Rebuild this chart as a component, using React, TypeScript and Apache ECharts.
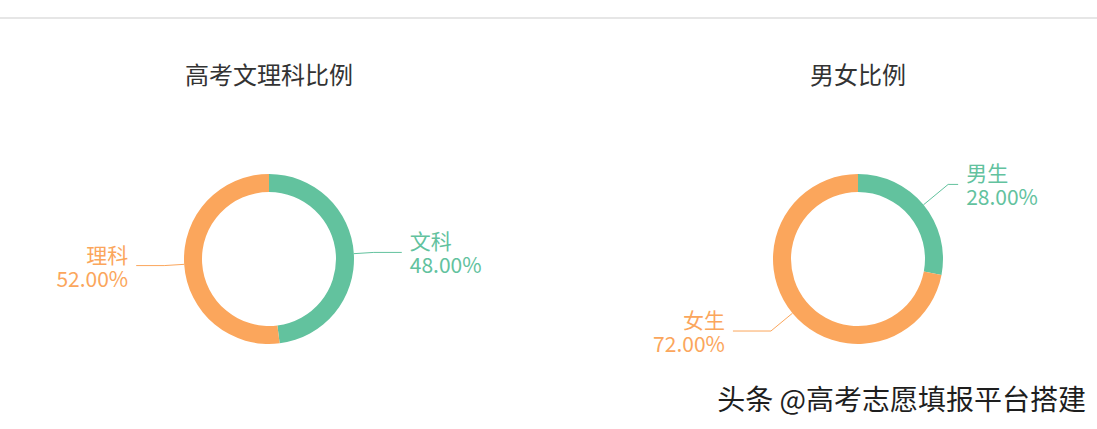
import React, { useEffect, useRef } from "react";
import * as echarts from "echarts";

const titles = ["高考文理科比例", "男女比例"];
const subjectNames = ["文科", "理科"];
const subjectValues = [48, 52];
const genderNames = ["男生", "女生"];
const genderValues = [28, 72];
const sliceColors = ["#62c29e", "#fba65c"];
const watermark = "头条 @高考志愿填报平台搭建";

const FONT = "'Noto Sans CJK SC', 'Noto Sans', sans-serif";

function pieSeries(
  names: string[],
  values: number[],
  center: [number, number],
  lineLens: [number, number][]
) {
  return {
    type: "pie",
    center,
    radius: [67, 85],
    startAngle: 90,
    clockwise: true,
    avoidLabelOverlap: true,
    silent: true,
    data: names.map((n, i) => ({
      name: n,
      value: values[i],
      itemStyle: { color: sliceColors[i] },
      label: { color: sliceColors[i] },
      labelLine: {
        length: lineLens[i][0],
        length2: lineLens[i][1],
        lineStyle: { color: sliceColors[i], width: 1 },
      },
    })),
    label: {
      show: true,
      position: "outside",
      fontSize: 21,
      lineHeight: 24,
      fontFamily: FONT,
      distanceToLabelLine: 8,
      formatter: (p: any) => `${p.name}\n${Number(p.percent).toFixed(2)}%`,
    },
    labelLine: { show: true, length: 20, length2: 28 },
  };
}

export default function App() {
  const ref = useRef<HTMLDivElement>(null);
  useEffect(() => {
    const chart = echarts.init(ref.current!, null, { renderer: "svg" });
    chart.setOption({
      animation: false,
      backgroundColor: "#ffffff",
      textStyle: { fontFamily: FONT },
      graphic: [
        {
          type: "line",
          shape: { x1: 0, y1: 18, x2: 1097, y2: 18 },
          style: { stroke: "#e6e6e6", lineWidth: 2 },
          silent: true,
        },
        {
          type: "text",
          x: 269,
          y: 73,
          style: {
            text: titles[0],
            fontSize: 24,
            fontFamily: FONT,
            fill: "#333333",
            align: "center",
            verticalAlign: "middle",
          },
        },
        {
          type: "text",
          x: 858,
          y: 73,
          style: {
            text: titles[1],
            fontSize: 24,
            fontFamily: FONT,
            fill: "#333333",
            align: "center",
            verticalAlign: "middle",
          },
        },
        {
          type: "text",
          right: 10,
          top: 383,
          z: 100,
          style: {
            text: watermark,
            fontSize: 28,
            fontFamily: FONT,
            fill: "#1e1e1e",
            stroke: "#ffffff",
            lineWidth: 2,
            shadowColor: "rgba(0,0,0,0.35)",
            shadowBlur: 2,
            shadowOffsetX: 1,
            shadowOffsetY: 1,
          },
        },
      ],
      series: [
        pieSeries(subjectNames, subjectValues, [269, 259], [
          [20, 28],
          [20, 28],
        ]),
        pieSeries(genderNames, genderValues, [858, 259], [
          [32, 10],
          [28, 38],
        ]),
      ],
    });
    return () => chart.dispose();
  }, []);
  return (
    <div
      ref={ref}
      style={{ position: "fixed", left: 0, top: 0, width: 1097, height: 429 }}
    />
  );
}
